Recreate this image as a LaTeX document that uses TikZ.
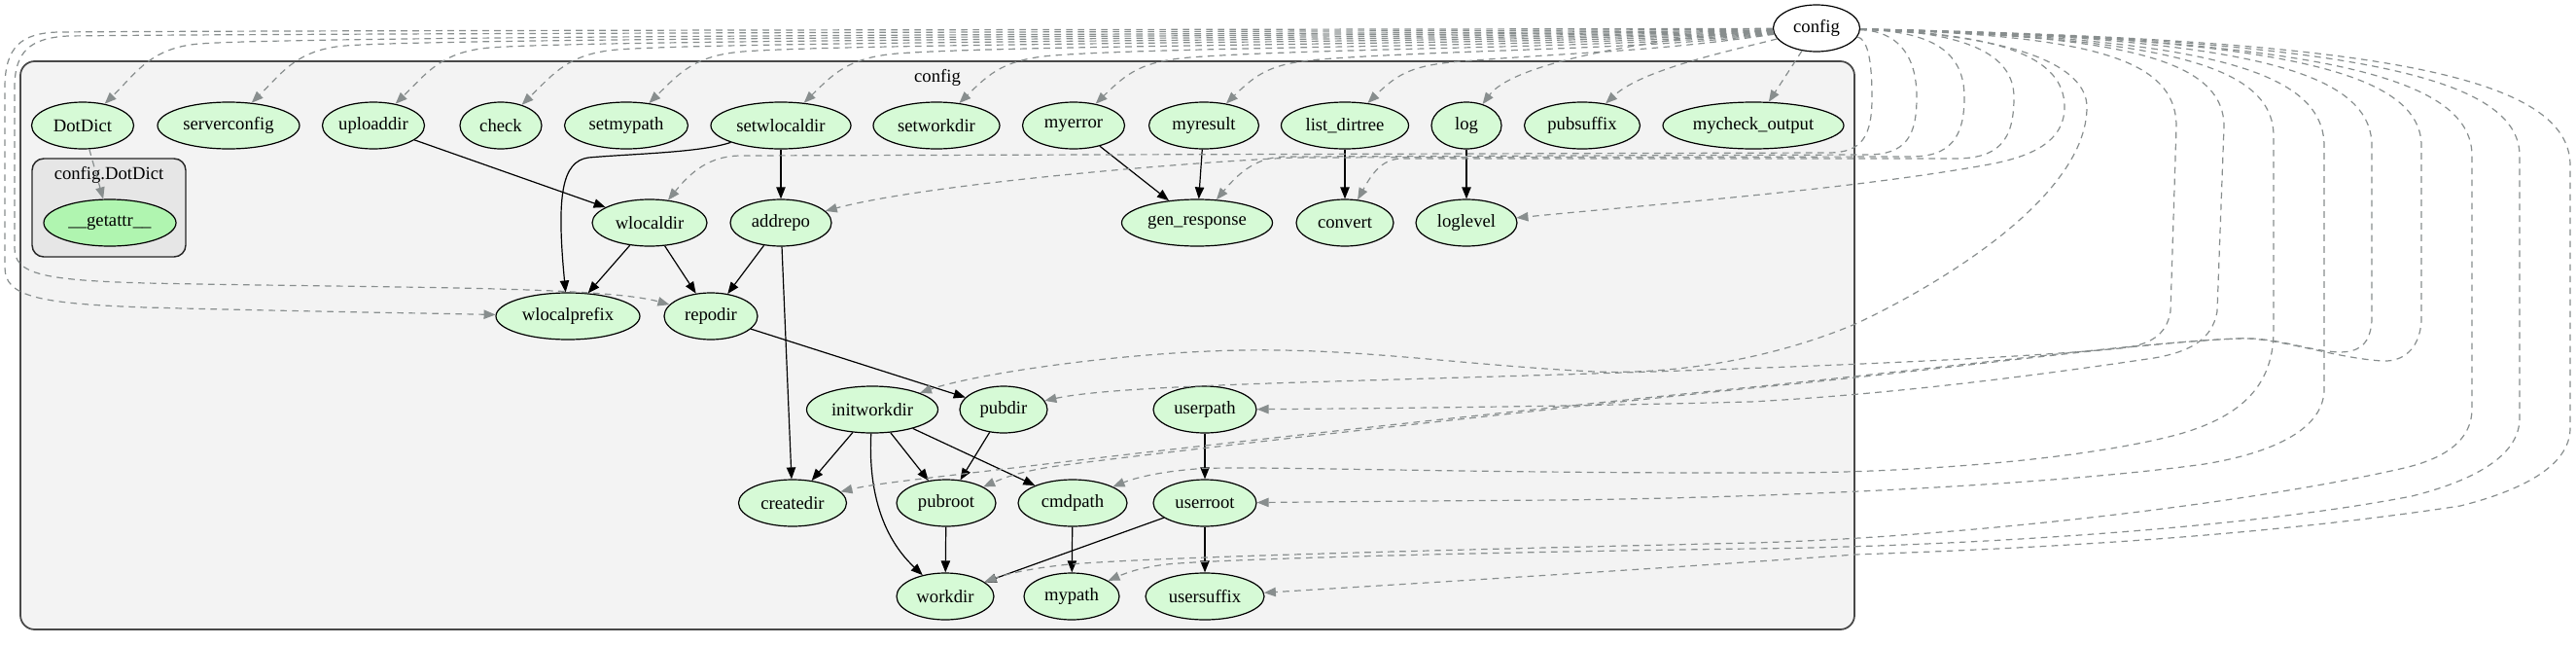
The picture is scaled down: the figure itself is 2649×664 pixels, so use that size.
\documentclass[tikz,border=0pt]{standalone}
\usepackage{fontspec}
\setmainfont{Liberation Serif}
\usetikzlibrary{shapes.geometric,arrows.meta}
\definecolor{ng}{RGB}{214,250,214}
\definecolor{ga}{RGB}{176,245,176}
\definecolor{dg}{RGB}{136,142,142}
\definecolor{cf}{RGB}{243,243,243}
\definecolor{cfb}{RGB}{230,230,230}
\definecolor{cb}{RGB}{72,72,72}
\newcommand\gvf{\fontsize{14}{16}\selectfont}
\newcommand\toprowedge[3]{%
  \draw[de] (config) .. controls (1700,#3) and ({#2+250},#3) .. ({#2+120},{#3+10})
    .. controls ({#2+70},{#3+14}) and ({#2+55},75) .. (#1);}
\tikzset{
  nd/.style={ellipse, draw=black, line width=0.9pt, fill=ng, inner sep=0pt, minimum height=36pt, font=\gvf},
  ew/.style={minimum width=#1*0.75pt},
  se/.style={draw=black, line width=0.9pt, -{Triangle[length=9pt,width=7pt]}},
  de/.style={draw=dg, line width=0.9pt, dash pattern=on 5pt off 4pt, -{Triangle[length=9pt,width=7pt,fill=dg]}},
  lbl/.style={font=\gvf, inner sep=0pt}
}
\begin{document}
\begin{tikzpicture}[x=0.75pt,y=-0.75pt]
\useasboundingbox (0,0) rectangle (2649,664);
\fill[white] (0,0) rectangle (2649,664);
% clusters
\draw[cb, line width=1.3pt, fill=cf, rounded corners=11pt] (21,63) rectangle (1907,647);
\node[lbl] (cluster1) at (964,80) {config};
\draw[black!85, line width=1.1pt, fill=cfb, rounded corners=9pt] (33,163) rectangle (191,264);
\node[lbl] (cluster2) at (112,180) {config.DotDict};
% nodes
\node[nd, ew=89, fill=white] (config) at (1868,29) {config};
\node[nd, ew=105] (DotDict) at (85,129) {DotDict};
\node[nd, ew=146] (serverconfig) at (235,129) {serverconfig};
\node[nd, ew=105] (uploaddir) at (384,129) {uploaddir};
\node[nd, ew=84] (check) at (515,129) {check};
\node[nd, ew=127] (setmypath) at (644,129) {setmypath};
\node[nd, ew=144] (setwlocaldir) at (803,129) {setwlocaldir};
\node[nd, ew=130] (setworkdir) at (963,129) {setworkdir};
\node[nd, ew=105] (myerror) at (1104,129) {myerror};
\node[nd, ew=113] (myresult) at (1238,129) {myresult};
\node[nd, ew=131] (listdirtree) at (1383,129) {list\_dirtree};
\node[nd, ew=72] (log) at (1508,129) {log};
\node[nd, ew=119] (pubsuffix) at (1627,129) {pubsuffix};
\node[nd, ew=186] (mycheckoutput) at (1803,129) {mycheck\_output};
\node[nd, ew=136, fill=ga] (getattr) at (113,229) {\_\_getattr\_\_};
\node[nd, ew=118] (wlocaldir) at (668,229) {wlocaldir};
\node[nd, ew=104] (addrepo) at (803,229) {addrepo};
\node[nd, ew=155] (genresponse) at (1231,229) {gen\_response};
\node[nd, ew=100] (convert) at (1383,229) {convert};
\node[nd, ew=104] (loglevel) at (1508,229) {loglevel};
\node[nd, ew=148] (wlocalprefix) at (584,325) {wlocalprefix};
\node[nd, ew=96] (repodir) at (731,325) {repodir};
\node[nd, ew=135] (initworkdir) at (897,421) {initworkdir};
\node[nd, ew=90] (pubdir) at (1032,421) {pubdir};
\node[nd, ew=106] (userpath) at (1239,421) {userpath};
\node[nd, ew=111] (createdir) at (815,517) {createdir};
\node[nd, ew=102] (pubroot) at (973,517) {pubroot};
\node[nd, ew=112] (cmdpath) at (1103,517) {cmdpath};
\node[nd, ew=106] (userroot) at (1239,517) {userroot};
\node[nd, ew=100] (workdir) at (972,613) {workdir};
\node[nd, ew=98] (mypath) at (1102,613) {mypath};
\node[nd, ew=122] (usersuffix) at (1239,613) {usersuffix};
% solid edges
\draw[se] (uploaddir) -- (wlocaldir);
\draw[se] (setwlocaldir) -- (addrepo);
\draw[se] (setwlocaldir) .. controls (720,157) and (650,158) .. (605,162) .. controls (578,166) and (572,200) .. (wlocalprefix);
\draw[se] (wlocaldir) -- (wlocalprefix);
\draw[se] (wlocaldir) -- (repodir);
\draw[se] (addrepo) -- (repodir);
\draw[se] (addrepo) -- (createdir);
\draw[se] (myerror) -- (genresponse);
\draw[se] (myresult) -- (genresponse);
\draw[se] (listdirtree) -- (convert);
\draw[se] (log) -- (loglevel);
\draw[se] (repodir) -- (pubdir);
\draw[se] (initworkdir) -- (createdir);
\draw[se] (initworkdir) -- (pubroot);
\draw[se] (initworkdir) -- (cmdpath);
\draw[se] (initworkdir) .. controls (893,500) and (905,550) .. (workdir);
\draw[se] (pubdir) -- (pubroot);
\draw[se] (userpath) -- (userroot);
\draw[se] (pubroot) -- (workdir);
\draw[se] (cmdpath) -- (mypath);
\draw[se] (userroot) -- (workdir);
\draw[se] (userroot) -- (usersuffix);
% dashed edges: top row
\draw[de] (DotDict) -- (getattr);
\toprowedge{DotDict}{85}{35}
\toprowedge{serverconfig}{235}{37}
\toprowedge{uploaddir}{384}{39}
\toprowedge{check}{515}{41}
\toprowedge{setmypath}{644}{43}
\toprowedge{setwlocaldir}{803}{45}
\toprowedge{setworkdir}{963}{47}
\toprowedge{myerror}{1104}{49}
\toprowedge{myresult}{1238}{51}
\toprowedge{listdirtree}{1383}{53}
\draw[de] (config) .. controls (1730,36) and (1560,60) .. (log);
\draw[de] (config) .. controls (1790,50) and (1690,70) .. (pubsuffix);
\draw[de] (config) .. controls (1848,60) and (1835,80) .. (mycheckoutput);
% dashed edges: around the left
\draw[de] (config) .. controls (1700,30) and (300,31) .. (60,33) .. controls (22,34) and (5,48) .. (5,90) -- (5,275) .. controls (5,305) and (40,312) .. (150,316) .. controls (300,320) and (440,322) .. (wlocalprefix);
\draw[de] (config) .. controls (1700,32) and (300,34) .. (70,37) .. controls (32,39) and (15,52) .. (15,90) -- (15,255) .. controls (15,282) and (45,288) .. (150,291) .. controls (400,296) and (620,294) .. (repodir);
% dashed edges: right lanes
\draw[de] (config) .. controls (1920,40) and (1925,60) .. (1925,100) .. controls (1925,140) and (1915,157) .. (1880,157) -- (760,160) .. controls (730,161) and (712,175) .. (wlocaldir);
\draw[de] (config) .. controls (1950,32) and (1971,55) .. (1971,100) .. controls (1971,140) and (1960,159) .. (1920,159) -- (1320,161) .. controls (1290,162) and (1272,180) .. (genresponse);
\draw[de] (config) .. controls (1990,32) and (2020,55) .. (2020,100) .. controls (2020,142) and (2005,161) .. (1965,161) -- (1330,162) .. controls (1200,168) and (950,190) .. (addrepo);
\draw[de] (config) .. controls (2020,32) and (2071,55) .. (2071,100) .. controls (2071,145) and (2055,163) .. (2010,163) -- (1440,163) .. controls (1420,164) and (1410,180) .. (convert);
\draw[de] (config) .. controls (2060,34) and (2123,60) .. (2123,110) .. controls (2123,150) and (2080,163) .. (2040,170) .. controls (1900,195) and (1700,210) .. (loglevel);
\draw[de] (config) .. controls (2080,36) and (2146,70) .. (2146,110) .. controls (2146,200) and (2000,290) .. (1908,333) .. controls (1820,370) and (1720,385) .. (1640,382) .. controls (1500,375) and (1400,358) .. (1278,360) .. controls (1150,362) and (1000,385) .. (initworkdir);
\draw[de] (config) .. controls (2150,36) and (2238,60) .. (2238,130) -- (2232,320) .. controls (2228,345) and (2210,355) .. (2180,358) .. controls (2000,375) and (1600,385) .. (1370,392) .. controls (1200,397) and (1120,402) .. (pubdir);
\draw[de] (config) .. controls (2180,36) and (2287,60) .. (2287,130) -- (2280,320) .. controls (2275,350) and (2250,362) .. (2215,368) .. controls (2100,385) and (1950,405) .. (1800,413) .. controls (1600,418) and (1400,420) .. (userpath);
\draw[de] (config) .. controls (2220,38) and (2338,65) .. (2338,140) -- (2338,340) .. controls (2338,400) and (2300,430) .. (2238,447) .. controls (2150,470) and (2000,484) .. (1850,486) .. controls (1500,487) and (1280,478) .. (1230,482) .. controls (1190,485) and (1165,492) .. (cmdpath);
\draw[de] (config) .. controls (2260,38) and (2390,70) .. (2390,150) -- (2390,400) .. controls (2390,440) and (2340,465) .. (2267,477) .. controls (2100,500) and (1800,512) .. (1600,514) .. controls (1450,515) and (1350,516) .. (userroot);
\draw[de] (config) .. controls (2300,38) and (2439,70) .. (2439,150) -- (2439,330) .. controls (2437,355) and (2425,362) .. (2405,362) .. controls (2370,360) and (2340,346) .. (2301,348) .. controls (2200,352) and (2000,378) .. (1800,398) .. controls (1500,428) and (1200,462) .. (1050,480) .. controls (950,492) and (900,497) .. (createdir);
\draw[de] (config) .. controls (2330,38) and (2490,70) .. (2490,150) -- (2490,330) .. controls (2488,360) and (2470,372) .. (2450,371) .. controls (2400,368) and (2340,346) .. (2301,348) .. controls (2200,352) and (2000,380) .. (1800,399) .. controls (1500,430) and (1150,470) .. (1080,480) .. controls (1050,485) and (1035,490) .. (pubroot);
\draw[de] (config) .. controls (2370,40) and (2542,75) .. (2542,160) -- (2542,420) .. controls (2542,460) and (2500,475) .. (2468,482) .. controls (2300,520) and (2000,553) .. (1800,558) .. controls (1500,565) and (1200,572) .. (1100,580) .. controls (1060,584) and (1035,590) .. (workdir);
\draw[de] (config) .. controls (2400,40) and (2591,75) .. (2591,160) -- (2591,430) .. controls (2591,470) and (2540,495) .. (2480,510) .. controls (2300,545) and (2000,562) .. (1800,564) .. controls (1500,568) and (1250,575) .. (1200,580) .. controls (1175,583) and (1160,588) .. (mypath);
\draw[de] (config) .. controls (2430,40) and (2643,75) .. (2643,170) -- (2643,440) .. controls (2643,480) and (2590,505) .. (2530,520) .. controls (2300,555) and (2050,565) .. (1908,570) .. controls (1700,585) and (1450,600) .. (usersuffix);
\end{tikzpicture}
\end{document}
